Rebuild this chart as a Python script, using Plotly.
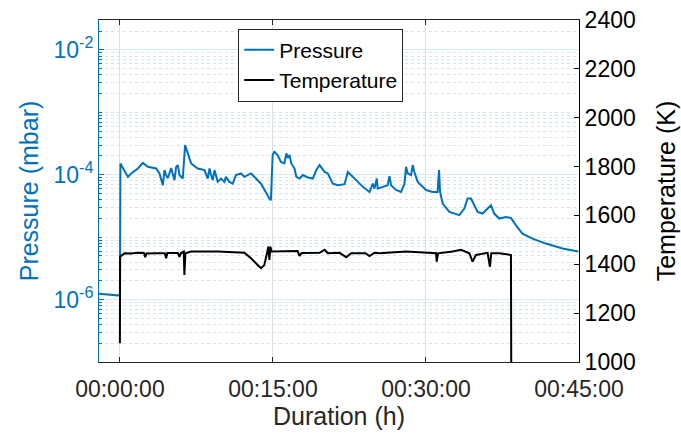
import plotly.graph_objects as go

# ---- data (minutes since start) ----
time_p = [-2.05, -0.13, 0.0, 0.05, 0.46, 0.78, 1.11, 1.76, 2.25, 2.74, 3.55, 3.88, 4.21, 4.37, 4.53,
          4.70, 5.02, 5.35, 5.51, 5.68, 5.84, 6.16, 6.39, 6.65, 6.98, 7.63, 8.29, 8.61, 8.78, 8.93,
          9.10, 9.27, 9.59, 9.91, 10.24, 10.39, 10.73, 11.06, 11.38, 11.87, 12.20, 12.85, 13.83,
          14.65, 14.80, 14.97, 15.14, 15.46, 15.78, 16.12, 16.31, 16.47, 16.63, 16.80, 17.12, 17.29,
          17.61, 17.94, 18.42, 18.91, 19.25, 19.57, 20.06, 20.38, 20.87, 21.36, 22.02, 22.34, 22.67,
          23.16, 23.81, 24.46, 24.79, 24.95, 25.18, 25.27, 25.76, 26.25, 26.42, 26.58, 27.07, 27.56,
          27.89, 28.05, 28.21, 28.54, 28.70, 28.86, 29.19, 29.68, 30.01, 30.66, 31.14, 31.28, 31.38,
          31.64, 32.29, 33.27, 33.76, 34.08, 34.41, 34.74, 35.06, 35.55, 36.04, 36.37, 36.69, 37.18,
          37.84, 38.33, 38.82, 39.46, 40.44, 41.75, 43.38, 44.94]
pressure = [1.24e-6, 1.17e-6, 1.16e-6, 1.52e-4, 1.11e-4, 9.25e-5, 1.05e-4, 1.26e-4, 1.55e-4, 1.34e-4,
            1.26e-4, 1.05e-4, 6.8e-5, 1.19e-4, 9.86e-5, 8.8e-5, 1.28e-4, 8.2e-5, 1.34e-4, 1.43e-4,
            9.9e-5, 8.7e-5, 2.99e-4, 2.2e-4, 1.52e-4, 1.26e-4, 1.19e-4, 8.7e-5, 1.26e-4, 9.9e-5,
            8.2e-5, 1.19e-4, 7.7e-5, 8.7e-5, 7.7e-5, 9.25e-5, 7.7e-5, 7.2e-5, 9.9e-5, 1.05e-4,
            9.25e-5, 1.05e-4, 7.2e-5, 4.17e-5, 3.9e-5, 2.07e-4, 2.33e-4, 2.07e-4, 1.61e-4, 1.52e-4,
            2.2e-4, 1.85e-4, 2.07e-4, 1.52e-4, 1.26e-4, 9.25e-5, 8.7e-5, 9.9e-5, 9.06e-5, 8.7e-5,
            1.19e-4, 1.43e-4, 1.11e-4, 1.05e-4, 7.2e-5, 6.8e-5, 7.06e-5, 1.11e-4, 9.9e-5, 8.2e-5,
            6.4e-5, 5.3e-5, 7.2e-5, 6.0e-5, 8.7e-5, 6.0e-5, 6.4e-5, 6.8e-5, 9.5e-5, 6.8e-5,
            5.7e-5, 5.3e-5, 7.2e-5, 1.34e-4, 1.05e-4, 9.9e-5, 1.43e-4, 1.11e-4, 7.7e-5, 6.4e-5,
            5.7e-5, 5.3e-5, 5.3e-5, 1.19e-4, 5.3e-5, 3.46e-5, 2.54e-5, 2.25e-5, 2.88e-5, 4.17e-5,
            4.17e-5, 3.25e-5, 2.54e-5, 2.39e-5, 2.88e-5, 3.25e-5, 2.39e-5, 1.99e-5, 2.11e-5, 2.03e-5,
            1.55e-5, 1.14e-5, 9.5e-6, 7.9e-6, 6.6e-6, 5.9e-6]

time_t = [0.0, 0.02, 0.46, 1.08, 1.76, 2.35, 2.48, 2.59, 3.59, 4.40, 4.53, 4.65, 5.68, 5.84, 5.97,
          6.26, 6.32, 6.42, 6.98, 9.59, 12.20, 12.85, 13.50, 13.83, 14.16, 14.35, 14.55, 14.65,
          14.75, 14.87, 15.66, 17.42, 17.61, 17.81, 19.57, 20.06, 20.38, 21.53, 22.18, 22.67,
          24.07, 24.46, 24.95, 25.44, 28.05, 30.01, 30.99, 31.05, 31.19, 32.61, 33.43, 34.25,
          34.57, 34.90, 35.55, 36.04, 36.27, 36.40, 37.18, 38.16, 38.33, 38.36]
temperature = [1077, 1431, 1445, 1444, 1447, 1446, 1429, 1444, 1445, 1445, 1425, 1446, 1446, 1430, 1445,
               1452, 1356, 1445, 1452, 1452, 1447, 1425, 1397, 1384, 1397, 1431, 1472, 1418,
               1472, 1452, 1452, 1454, 1434, 1446, 1447, 1459, 1445, 1447, 1429, 1445,
               1445, 1434, 1447, 1445, 1452, 1449, 1445, 1411, 1445, 1452, 1459, 1445,
               1411, 1438, 1442, 1447, 1390, 1445, 1445, 1438, 1438, 960]

x_tick_vals = [0, 15, 30, 45]
x_tick_text = ["00:00:00", "00:15:00", "00:30:00", "00:45:00"]
p_tick_vals = [1e-6, 1e-4, 1e-2]
p_tick_text = ["10<sup>-6</sup>", "10<sup>-4</sup>", "10<sup>-2</sup>"]
t_tick_vals = [1000, 1200, 1400, 1600, 1800, 2000, 2200, 2400]

BLUE = "#0072BD"
DARK = "#262626"
FONT = "Liberation Sans, Arial, Helvetica, sans-serif"

minor_vals = [m * 10.0 ** e for e in range(-8, -1) for m in range(1, 10)
              if not (m == 1 and e in (-6, -4, -2))]

fig = go.Figure()
fig.add_trace(go.Scatter(x=time_p, y=pressure, mode="lines", name="Pressure",
                         line=dict(color=BLUE, width=2), yaxis="y"))
fig.add_trace(go.Scatter(x=time_t, y=temperature, mode="lines", name="Temperature",
                         line=dict(color="#000000", width=2), yaxis="y2"))

fig.update_layout(
    width=681, height=437,
    margin=dict(l=99, r=102, t=20, b=75),
    paper_bgcolor="white", plot_bgcolor="white",
    font=dict(family=FONT, size=23, color=DARK),
    showlegend=True,
    legend=dict(x=0.29, y=0.975, xanchor="left", yanchor="top",
                bgcolor="white", bordercolor=DARK, borderwidth=1,
                font=dict(size=21, color="#000000"), tracegroupgap=0),
    xaxis=dict(range=[-2.05, 45], tickmode="array", tickvals=x_tick_vals, ticktext=x_tick_text,
               showgrid=True, gridcolor="#DFDFDF", gridwidth=1, zeroline=False,
               showline=True, linecolor=DARK, linewidth=1, mirror="ticks",
               ticks="inside", ticklen=5, tickcolor=DARK, ticklabelstandoff=6,
               tickfont=dict(size=23, color=DARK), automargin=False,
               title=dict(text="Duration (h)", font=dict(size=25, color=DARK), standoff=4)),
    yaxis=dict(type="log", range=[-7, -1.52], tickmode="array", tickvals=p_tick_vals,
               ticktext=p_tick_text, showgrid=True, gridcolor="#D9EAF5", gridwidth=1,
               zeroline=False, showline=True, linecolor=BLUE, linewidth=1,
               ticks="inside", ticklen=5, tickcolor=BLUE, automargin=False,
               tickfont=dict(size=23, color=BLUE),
               minor=dict(tickmode="array", tickvals=minor_vals, showgrid=True,
                          gridcolor="#D2E5F3", griddash="dot", gridwidth=1,
                          ticks="inside", ticklen=3, tickcolor=BLUE),
               title=dict(text="Pressure (mbar)", font=dict(size=25, color=BLUE), standoff=7)),
    yaxis2=dict(overlaying="y", side="right", range=[1000, 2400], tickmode="array",
                tickvals=t_tick_vals, showgrid=False, zeroline=False,
                showline=True, linecolor="#000000", linewidth=1,
                ticks="inside", ticklen=5, tickcolor="#000000", automargin=False,
                tickfont=dict(size=23, color="#000000"),
                title=dict(text="Temperature (K)", font=dict(size=25, color="#000000"), standoff=22)),
)

fig.write_html("out.html")
